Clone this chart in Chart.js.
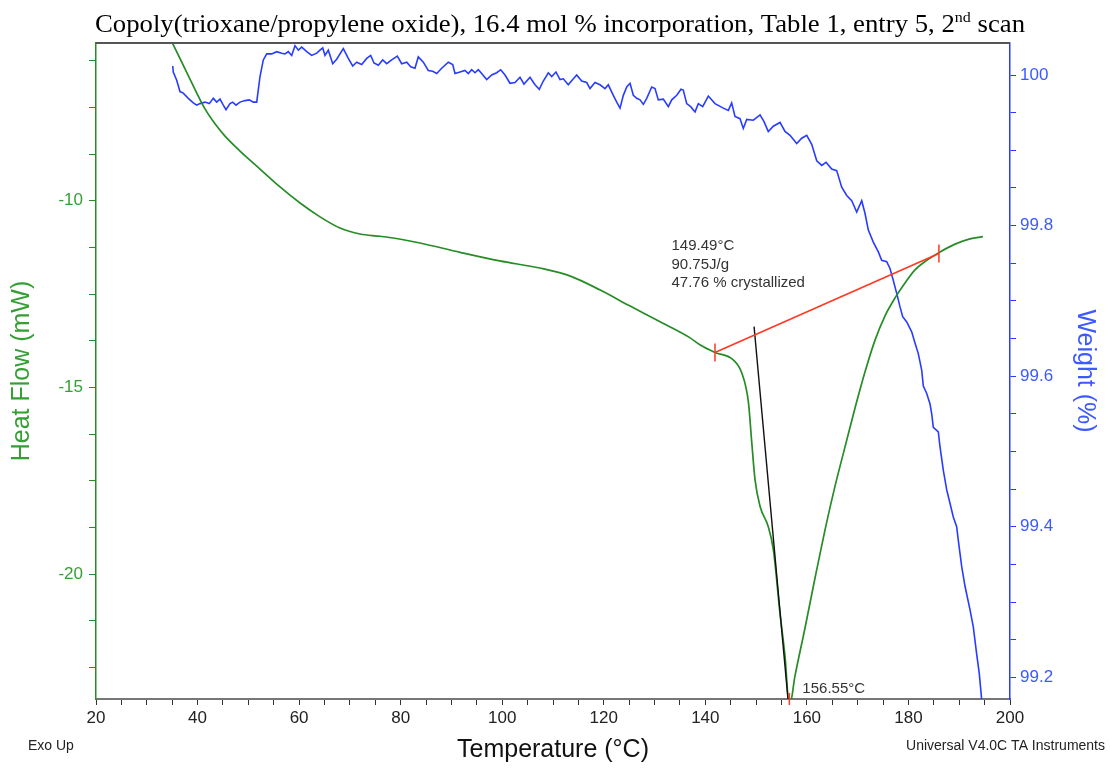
<!DOCTYPE html>
<html>
<head>
<meta charset="utf-8">
<title>Copoly(trioxane/propylene oxide) DSC / TGA, 2nd scan</title>
<script src="https://cdn.jsdelivr.net/npm/chart.js@4.4.1/dist/chart.umd.min.js"></script>
<style>
  html, body { margin: 0; padding: 0; background: #fff; }
</style>
</head>
<body>
<canvas id="dsc" width="1110" height="769"></canvas>
<script>
/* DSC heat flow (left axis) + TGA weight (right axis) vs temperature,
   with the melting analysis drawn on top (baseline, onset tangent, peak). */

// ---- data ----
const heatTemp = [35.0, 38.51, 41.47, 43.44, 45.41, 48.36, 52.30, 56.24, 60.18, 64.12, 68.06, 72.0, 75.93,
  80.0, 83.8, 91.7, 99.5, 107.4, 113.3, 119.3, 125.2, 131.1, 137.0, 139.0, 141.9, 145.5, 147.2, 148.5,
  149.1, 149.8, 150.8, 152.4, 153.4, 154.7, 155.7, 156.55, 157.66, 159.63, 161.60, 163.57, 165.54,
  167.51, 169.48, 171.45, 173.42, 175.39, 177.36, 179.33, 181.29, 183.66, 186.22, 189.17, 192.12, 194.67];
const heatFlow = [-5.76, -6.74, -7.54, -7.94, -8.27, -8.67, -9.15, -9.63, -10.06, -10.43, -10.73, -10.89,
  -10.95, -11.03, -11.13, -11.38, -11.61, -11.80, -12.01, -12.39, -12.82, -13.24, -13.67, -13.86, -14.06,
  -14.26, -14.62, -15.41, -16.40, -17.48, -18.19, -18.73, -19.35, -21.04, -22.21, -23.55, -22.72, -21.44,
  -20.10, -18.81, -17.64, -16.59, -15.55, -14.58, -13.73, -13.08, -12.60, -12.20, -11.85, -11.59, -11.37,
  -11.16, -11.02, -10.96];

const weightTemp = [35.11,35.22,35.89,36.54,37.19,38.18,39.16,39.83,40.48,41.47,
  42.31,43.10,43.77,44.42,45.07,45.60,46.39,46.92,47.57,48.36,
  49.34,50.19,50.98,51.65,52.30,52.95,53.62,54.60,55.59,56.57,
  57.22,57.87,58.54,59.19,59.84,60.51,61.50,62.48,63.47,64.11,
  64.65,65.10,65.75,66.62,67.40,68.70,69.69,70.55,71.34,72.33,
  73.31,74.10,74.75,75.60,76.46,77.25,78.23,79.34,80.20,81.19,
  81.98,82.82,83.47,84.46,85.44,86.31,87.10,88.08,89.38,90.25,
  90.70,91.69,92.67,93.32,93.99,94.64,95.29,95.96,96.94,97.93,
  98.91,99.70,100.55,101.53,102.52,103.50,104.29,105.47,106.46,107.30,
  108.09,109.08,109.74,110.59,111.38,112.03,113.01,113.88,114.67,115.65,
  116.64,117.29,118.27,119.26,120.24,120.89,121.88,122.55,123.20,123.85,
  124.52,125.17,125.82,126.49,127.14,127.79,128.46,129.44,130.09,130.74,
  131.73,132.71,133.38,134.37,135.21,135.66,136.33,137.12,137.97,138.62,
  139.48,140.59,141.91,143.54,144.53,145.19,145.84,146.83,147.48,148.15,
  149.45,150.77,151.56,152.40,153.39,154.71,155.69,156.68,158.00,158.98,
  159.97,160.95,161.94,162.92,163.77,164.89,165.87,166.86,167.84,168.83,
  169.81,170.80,171.45,172.10,173.08,174.07,174.73,175.72,176.37,177.02,
  177.69,178.34,178.87,179.66,180.64,181.29,181.94,182.61,182.93,183.60,
  184.25,184.58,184.90,185.88,186.22,186.87,187.54,188.19,188.83,189.50,
  189.82,190.49,191.14,192.12,192.77,193.44,193.95,194.43];
const weightPct = [100.012,100.004,99.993,99.978,99.976,99.969,99.963,99.960,99.962,99.964,
  99.962,99.969,99.964,99.968,99.960,99.954,99.962,99.964,99.960,99.964,
  99.966,99.967,99.964,99.964,99.998,100.020,100.028,100.028,100.031,100.029,
  100.028,100.031,100.026,100.039,100.033,100.037,100.031,100.026,100.029,100.033,
  100.036,100.026,100.033,100.015,100.021,100.035,100.022,100.012,100.017,100.014,
  100.022,100.026,100.016,100.013,100.020,100.015,100.020,100.025,100.015,100.017,
  100.011,100.009,100.024,100.017,100.006,100.005,100.002,100.009,100.017,100.014,
  100.002,100.004,100.006,100.002,100.007,100.003,100.007,100.002,99.994,100.000,
  100.003,100.007,100.000,99.989,99.990,99.997,99.988,99.997,99.987,99.981,
  99.992,100.003,99.998,100.004,99.994,99.995,99.987,99.994,100.000,99.992,
  99.990,99.982,99.990,99.987,99.982,99.987,99.973,99.964,99.956,99.973,
  99.984,99.989,99.973,99.969,99.967,99.961,99.969,99.984,99.982,99.967,
  99.968,99.958,99.967,99.973,99.981,99.980,99.962,99.958,99.951,99.962,
  99.958,99.972,99.962,99.956,99.953,99.963,99.945,99.942,99.929,99.941,
  99.940,99.947,99.938,99.925,99.932,99.937,99.925,99.920,99.909,99.916,
  99.920,99.908,99.886,99.880,99.884,99.875,99.873,99.851,99.840,99.833,
  99.818,99.833,99.816,99.794,99.778,99.765,99.754,99.752,99.743,99.727,
  99.710,99.692,99.679,99.672,99.659,99.644,99.630,99.608,99.587,99.577,
  99.563,99.550,99.532,99.526,99.506,99.475,99.449,99.431,99.413,99.400,
  99.382,99.347,99.321,99.290,99.267,99.231,99.205,99.170];

// melting analysis: integration baseline, onset tangent, peak
const baselineTemp = [141.9, 186.0];
const baselineFlow = [-14.06, -11.41];
const tangentTemp = [149.6, 156.45];
const tangentFlow = [-13.37, -23.6];
const peakTemp = 156.55;
const onsetLabels = ["149.49°C", "90.75J/g", "47.76 % crystallized"];
const peakLabel = "156.55°C";

// axes
const tempTicks = [20,25,30,35,40,45,50,55,60,65,70,75,80,85,90,95,100,105,110,115,120,125,130,135,
  140,145,150,155,160,165,170,175,180,185,190,195,200];
const tempLabels = {20:"20",40:"40",60:"60",80:"80",100:"100",120:"120",140:"140",160:"160",180:"180",200:"200"};
const heatTicks = [-6.25,-7.5,-8.75,-10,-11.25,-12.5,-13.75,-15,-16.25,-17.5,-18.75,-20,-21.25,-22.5];
const heatLabels = {"-10":"-10","-15":"-15","-20":"-20"};
const weightTicks = [100,99.95,99.9,99.85,99.8,99.75,99.7,99.65,99.6,99.55,99.5,99.45,99.4,99.35,99.3,99.25,99.2];
const weightLabels = {"100":"100","99.8":"99.8","99.6":"99.6","99.4":"99.4","99.2":"99.2"};
const heatRange = [-23.34, -5.775];
const weightRange = [99.1713, 100.0425];

const GREEN = "rgb(38,140,38)";
const GREEN_TXT = "rgb(52,160,52)";
const BLUE = "rgb(40,60,255)";
const BLUE_TXT = "rgb(60,90,255)";
const RED = "rgb(255,55,35)";
const SANS = '"Liberation Sans", Arial, sans-serif';
const SERIF = '"Liberation Serif", "Times New Roman", serif';

const pts = (xs, ys) => xs.map((x, i) => ({ x, y: ys[i] }));
const fromDict = (d) => (v) => d[String(+v.toFixed(2))] ?? "";

// extra texts + top frame line
const extrasPlugin = {
  id: "extras",
  afterDraw(chart) {
    const { ctx, chartArea: a, scales } = chart;
    ctx.save();
    ctx.strokeStyle = "#555";
    ctx.lineWidth = 2;
    ctx.beginPath();
    ctx.moveTo(a.left, a.top);
    ctx.lineTo(a.right, a.top);
    ctx.stroke();

    // title with superscript
    const main = "Copoly(trioxane/propylene oxide), 16.4 mol % incorporation, Table 1, entry 5, 2";
    const sup = "nd", tail = " scan";
    ctx.fillStyle = "#000";
    ctx.textBaseline = "alphabetic";
    ctx.textAlign = "left";
    ctx.font = "25px " + SERIF;
    const wMain = ctx.measureText(main).width, wTail = ctx.measureText(tail).width;
    ctx.font = "15px " + SERIF;
    const wSup = ctx.measureText(sup).width;
    const sx = 930 / (wMain + wSup + wTail);
    ctx.save();
    ctx.translate(95, 32);
    ctx.scale(sx, 1);
    ctx.font = "25px " + SERIF;
    ctx.fillText(main, 0, 0);
    ctx.fillText(tail, wMain + wSup, 0);
    ctx.font = "15px " + SERIF;
    ctx.fillText(sup, wMain, -10);
    ctx.restore();

    // footer notes
    ctx.fillStyle = "#222";
    ctx.font = "14px " + SANS;
    ctx.textBaseline = "middle";
    ctx.fillText("Exo Up", 28, 746);
    ctx.textAlign = "right";
    ctx.fillText("Universal V4.0C TA Instruments", 1105, 746, 203);

    // analysis labels
    const x = scales.x;
    ctx.textAlign = "left";
    ctx.fillStyle = "#333";
    ctx.font = "15px " + SANS;
    const ox = x.getPixelForValue(149.49) - 82;
    onsetLabels.forEach((t, i) => ctx.fillText(t, ox, 246 + i * 18.4));
    ctx.fillText(peakLabel, x.getPixelForValue(peakTemp) + 13, a.bottom - 10);
    ctx.restore();
  }
};

new Chart(document.getElementById("dsc"), {
  type: "line",
  data: {
    datasets: [
      {
        label: "peak",
        data: [{ x: peakTemp, y: heatRange[0] }],
        yAxisID: "yHeat",
        showLine: false,
        pointStyle: "line",
        pointRotation: 90,
        pointRadius: 6,
        pointBorderColor: RED,
        pointBorderWidth: 1.5,
        clip: false
      },
      {
        label: "baseline",
        data: pts(baselineTemp, baselineFlow),
        yAxisID: "yHeat",
        borderColor: RED,
        borderWidth: 1.6,
        pointStyle: "line",
        pointRotation: 90,
        pointRadius: 9,
        pointBorderColor: RED,
        pointBorderWidth: 1.5
      },
      {
        label: "tangent",
        data: pts(tangentTemp, tangentFlow),
        yAxisID: "yHeat",
        borderColor: "#111",
        borderWidth: 1.4,
        pointRadius: 0
      },
      {
        label: "Heat Flow",
        data: pts(heatTemp, heatFlow),
        yAxisID: "yHeat",
        borderColor: GREEN,
        borderWidth: 1.7,
        pointRadius: 0,
        cubicInterpolationMode: "monotone"
      },
      {
        label: "Weight",
        data: pts(weightTemp, weightPct),
        yAxisID: "yWeight",
        borderColor: BLUE,
        borderWidth: 1.6,
        pointRadius: 0,
        tension: 0
      }
    ]
  },
  options: {
    responsive: false,
    animation: false,
    events: [],
    layout: { padding: { top: 43, left: 0, right: 0, bottom: 0 } },
    plugins: { legend: { display: false }, tooltip: { enabled: false } },
    scales: {
      x: {
        type: "linear", position: "bottom", min: 20, max: 200,
        afterFit: (s) => { s.height = 70; },
        afterBuildTicks: (s) => { s.ticks = tempTicks.map((v) => ({ value: v })); },
        ticks: { autoSkip: false, maxRotation: 0, minRotation: 0, padding: 3, color: "#222",
          font: { family: SANS, size: 17 }, callback: fromDict(tempLabels) },
        grid: { drawOnChartArea: false, drawTicks: true, tickLength: 6, color: "#333" },
        border: { display: true, color: "#777", width: 2 },
        title: { display: true, text: "Temperature (°C)", color: "#111",
          font: { family: SANS, size: 25 }, padding: { top: 0, bottom: 4 } }
      },
      yHeat: {
        type: "linear", position: "left", min: heatRange[0], max: heatRange[1],
        afterFit: (s) => { s.width = 96; },
        afterBuildTicks: (s) => { s.ticks = heatTicks.map((v) => ({ value: v })); },
        ticks: { autoSkip: false, padding: 6, color: GREEN_TXT,
          font: { family: SANS, size: 17 }, callback: fromDict(heatLabels) },
        grid: { drawOnChartArea: false, drawTicks: true, tickLength: 7, color: GREEN },
        border: { display: true, color: GREEN, width: 1.5 },
        title: { display: true, text: "Heat Flow (mW)", color: GREEN_TXT,
          font: { family: SANS, size: 25 }, padding: { top: 7, bottom: 0 } }
      },
      yWeight: {
        type: "linear", position: "right", min: weightRange[0], max: weightRange[1],
        afterFit: (s) => { s.width = 100; },
        afterBuildTicks: (s) => { s.ticks = weightTicks.map((v) => ({ value: v })); },
        ticks: { autoSkip: false, padding: 4, color: BLUE_TXT,
          font: { family: SANS, size: 17 }, callback: fromDict(weightLabels) },
        grid: { drawOnChartArea: false, drawTicks: true, tickLength: 6, color: BLUE },
        border: { display: true, color: BLUE, width: 1.5 },
        title: { display: true, text: "Weight (%)", color: BLUE_TXT,
          font: { family: SANS, size: 25 }, padding: { top: 10, bottom: 0 } }
      }
    }
  },
  plugins: [extrasPlugin]
});
</script>
</body>
</html>
